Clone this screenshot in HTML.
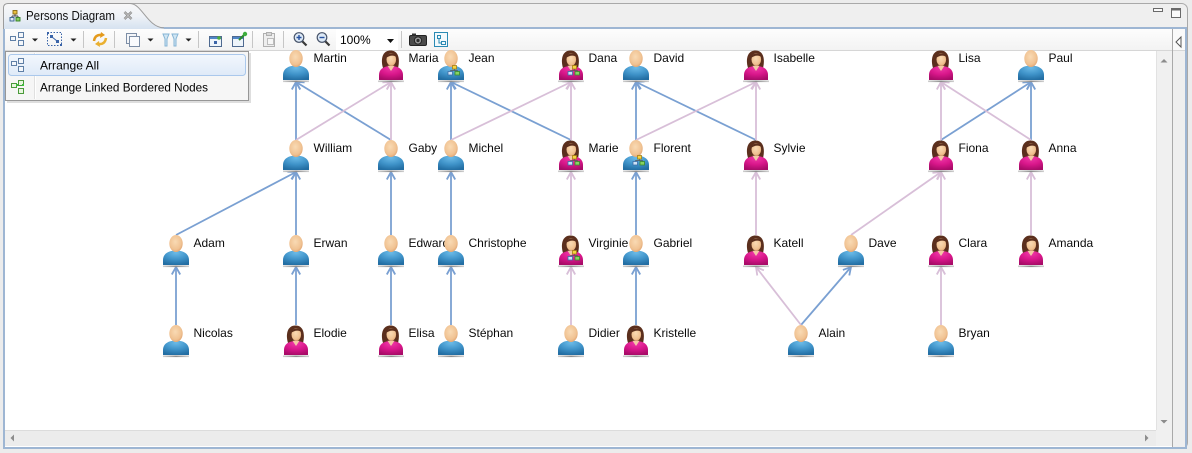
<!DOCTYPE html>
<html><head><meta charset="utf-8"><style>
html,body{margin:0;padding:0;width:1192px;height:453px;overflow:hidden;background:#ececec}
svg{display:block}
text{font-family:"Liberation Sans",sans-serif}
</style></head><body>
<svg width="1192" height="453" viewBox="0 0 1192 453" xmlns="http://www.w3.org/2000/svg">
<defs>
  <linearGradient id="tabg" x1="0" y1="0" x2="0" y2="1">
    <stop offset="0" stop-color="#f8f8f8"/><stop offset="0.5" stop-color="#eef2f7"/><stop offset="1" stop-color="#d6e2f0"/>
  </linearGradient>
  <linearGradient id="tbg" x1="0" y1="0" x2="0" y2="1">
    <stop offset="0" stop-color="#fdfdfd"/><stop offset="1" stop-color="#f3f3f3"/>
  </linearGradient>
  <linearGradient id="hl" x1="0" y1="0" x2="0" y2="1">
    <stop offset="0" stop-color="#f2f7fd"/><stop offset="1" stop-color="#dfeaf8"/>
  </linearGradient>
  <radialGradient id="sk" cx="0.45" cy="0.4" r="0.65">
    <stop offset="0" stop-color="#f9dab4"/><stop offset="0.7" stop-color="#f0c292"/><stop offset="1" stop-color="#dea06c"/>
  </radialGradient>
  <radialGradient id="bl" cx="0.5" cy="0.15" r="0.85">
    <stop offset="0" stop-color="#6cbbe8"/><stop offset="0.55" stop-color="#3f93c9"/><stop offset="1" stop-color="#236ea3"/>
  </radialGradient>
  <radialGradient id="mg" cx="0.5" cy="0.15" r="0.85">
    <stop offset="0" stop-color="#f03aa8"/><stop offset="0.55" stop-color="#d8168a"/><stop offset="1" stop-color="#a80c68"/>
  </radialGradient>
  <linearGradient id="shg" x1="0" y1="0" x2="1" y2="0">
    <stop offset="0" stop-color="#d0d0d0"/><stop offset="0.5" stop-color="#8e8e8e"/><stop offset="1" stop-color="#d0d0d0"/>
  </linearGradient>
  <marker id="ab" markerUnits="userSpaceOnUse" markerWidth="14" markerHeight="14" refX="11" refY="7" orient="auto" overflow="visible">
    <path d="M3.5,2.8 L11,7 L3.5,11.2" fill="none" stroke="#7aa0d2" stroke-width="1.8"/>
  </marker>
  <marker id="ap" markerUnits="userSpaceOnUse" markerWidth="14" markerHeight="14" refX="11" refY="7" orient="auto" overflow="visible">
    <path d="M3.5,2.8 L11,7 L3.5,11.2" fill="none" stroke="#d8bfd8" stroke-width="1.8"/>
  </marker>
  <g id="M">
    <rect x="-13" y="30.5" width="26" height="1.6" fill="url(#shg)"/>
    <path d="M-13,30 L-13,25 C-13,18.5 -7,15.5 0,15.5 C7,15.5 13,18.5 13,25 L13,30 Z" fill="url(#bl)"/>
    <ellipse cx="0" cy="8.5" rx="6.7" ry="8.5" fill="url(#sk)"/>
  </g>
  <g id="F">
    <rect x="-13" y="30.5" width="26" height="1.6" fill="url(#shg)"/>
    <path d="M-8,18 C-10.5,10 -9,0.5 -0.5,0.5 C8,0.5 9,10 7,18 Z" fill="#5b2f1d"/>
    <path d="M-12,30 L-12,25 C-12,19 -7,16 0,16 C7,16 12,19 12,25 L12,30 Z" fill="url(#mg)"/>
    <path d="M-3.5,15.8 L0,21 L3.5,15.8 Z" fill="#f3c9a4"/>
    <ellipse cx="0.3" cy="9.5" rx="4.8" ry="6.3" fill="url(#sk)"/>
    <path d="M-5.8,8.5 C-4.5,2.5 4,1.5 6,7.5 C3,4.8 -1,4.8 -5.8,8.5 Z" fill="#5b2f1d"/>
  </g>
  <g id="ov">
    <path d="M3.5,19 L3.5,20.5 M-0.5,20.5 L6.5,20.5 M-0.5,20.5 L-0.5,21.5 M6.5,20.5 L6.5,21.5" stroke="#555" stroke-width="0.8" fill="none"/>
    <rect x="1.5" y="15.5" width="4" height="3.5" fill="#f6d440" stroke="#a57f12" stroke-width="0.8"/>
    <rect x="-3" y="21.5" width="4.5" height="3.5" fill="#cfe2f6" stroke="#3b6ea8" stroke-width="0.8"/>
    <rect x="4" y="21.5" width="4.5" height="3.5" fill="#86d262" stroke="#3a8a2a" stroke-width="0.8"/>
  </g>
  <clipPath id="edc"><rect x="400" y="230" width="46" height="30"/></clipPath>
</defs>

<!-- outer -->
<rect x="0" y="0" width="1192" height="453" fill="#ececec"/>
<rect x="3.5" y="3.5" width="1184" height="445" rx="6" fill="#efefef" stroke="#a9a9a9"/>
<!-- editor frame -->
<rect x="4" y="28" width="1182" height="420" fill="#ffffff" stroke="#9eb6d3" stroke-width="2"/>
<!-- tab -->
<path d="M3.5,29 L3.5,8 Q3.5,3.5 8,3.5 L130,3.5 C142,3.5 147,27 164,28 L164,29 Z" fill="url(#tabg)"/>
<path d="M3.5,29 L3.5,8 Q3.5,3.5 8,3.5 L130,3.5 C142,3.5 147,27 164,28" fill="none" stroke="#9c9c9c"/>
<!-- tab icon -->
<path d="M15,14 L15,16 M12,16 L18,16 M12,16 L12,17 M18,16 L18,17" stroke="#444" stroke-width="1" fill="none"/>
<rect x="13" y="10.5" width="4" height="3.5" fill="#e8c040" stroke="#8a6a10" stroke-width="0.9"/>
<rect x="10" y="17.5" width="4" height="3.5" fill="#dfe9f6" stroke="#35608f" stroke-width="0.9"/>
<rect x="16" y="17.5" width="4" height="3.5" fill="#88d060" stroke="#2f7a22" stroke-width="0.9"/>
<text x="26" y="20" font-size="12.5" fill="#111" textLength="89" lengthAdjust="spacingAndGlyphs">Persons Diagram</text>
<path d="M124.5,12 L131.5,19 M131.5,12 L124.5,19" stroke="#8a8a8a" stroke-width="2.4"/>
<path d="M124.5,12 L131.5,19 M131.5,12 L124.5,19" stroke="#c8c8c8" stroke-width="0.8"/>
<!-- min/max -->
<rect x="1153.5" y="8.5" width="9" height="3" fill="#fafafa" stroke="#6a6a6a"/>
<rect x="1171.5" y="8.5" width="9" height="9" fill="#fafafa" stroke="#6a6a6a"/>
<rect x="1171.5" y="8.5" width="9" height="2" fill="#6a6a6a"/>

<!-- toolbar -->
<rect x="5" y="29" width="1167" height="21" fill="url(#tbg)"/>
<line x1="5" y1="50.5" x2="1185" y2="50.5" stroke="#d6d6d6"/>
<g stroke="#c6c6c6">
<line x1="83.5" y1="31" x2="83.5" y2="48"/><line x1="114.5" y1="31" x2="114.5" y2="48"/>
<line x1="198.5" y1="31" x2="198.5" y2="48"/><line x1="252.5" y1="31" x2="252.5" y2="48"/>
<line x1="283.5" y1="31" x2="283.5" y2="48"/><line x1="401.5" y1="31" x2="401.5" y2="48"/>
</g>
<g fill="#222">
<path d="M32,38.5 L38,38.5 L35,41.5 Z"/><path d="M70.5,38.5 L76.5,38.5 L73.5,41.5 Z"/>
<path d="M147.5,38.5 L153.5,38.5 L150.5,41.5 Z"/><path d="M185.5,38.5 L191.5,38.5 L188.5,41.5 Z"/>
</g>
<g fill="#f4f7fb" stroke="#5f7fa6">
<rect x="10.5" y="36.5" width="5" height="4"/><rect x="18.5" y="32.5" width="5" height="5"/><rect x="18.5" y="40.5" width="5" height="5"/>
</g>
<rect x="47.5" y="32.5" width="14" height="13" fill="none" stroke="#3a64a8" stroke-dasharray="1.5 1.5"/>
<g fill="#3a64a8"><rect x="50" y="35" width="3" height="3"/><rect x="56" y="40" width="3" height="3"/><rect x="47" y="32" width="2" height="2"/><rect x="60" y="44" width="2" height="2"/></g>
<path d="M52,37 L57,41" stroke="#3a64a8"/>
<path d="M94,41 Q95,34 102,35" fill="none" stroke="#e49a1c" stroke-width="2.5"/>
<path d="M101,32 L105,35 L100,38 Z" fill="#e49a1c"/>
<path d="M106,38 Q105,45 98,44" fill="none" stroke="#eab030" stroke-width="2.5"/>
<path d="M99,41 L95,44 L100,47 Z" fill="#eab030"/>
<rect x="126.5" y="33.5" width="10" height="10" fill="#f4f6f9" stroke="#7d8ea6"/>
<rect x="129.5" y="36.5" width="10" height="10" fill="#fafbfd" stroke="#7d8ea6"/>
<path d="M163,34 L169,34 L167,39 L167,46 L165,46 L165,39 Z M172,34 L178,34 L176,39 L176,46 L174,46 L174,39 Z" fill="#cfe5f3" stroke="#86b4d4"/>
<rect x="209.5" y="36.5" width="12" height="10" fill="#eef4fa" stroke="#4f6a90"/>
<rect x="210" y="37" width="11" height="2" fill="#4f86c8"/>
<rect x="214" y="41" width="3" height="3" fill="#3a64a8"/><circle cx="219" cy="38" r="1.8" fill="#4cae3a"/>
<rect x="232.5" y="36.5" width="11" height="10" fill="#eef4fa" stroke="#4f6a90"/>
<rect x="233" y="37" width="10" height="2" fill="#4f86c8"/>
<path d="M239,40 L246,33" stroke="#2e8a2e" stroke-width="2"/><circle cx="245" cy="34" r="2.2" fill="#3dae3d"/>
<rect x="263.5" y="33.5" width="11" height="13" fill="#eeeeee" stroke="#b0b0b0"/>
<rect x="266.5" y="32.5" width="5" height="3" fill="#d8d8d8" stroke="#b0b0b0"/>
<rect x="267.5" y="38.5" width="6" height="6" fill="#f6f6f6" stroke="#bcbcbc"/>
<line x1="302" y1="41" x2="306.5" y2="45.5" stroke="#3a3a3a" stroke-width="2.2"/>
<circle cx="299" cy="37.5" r="4.8" fill="#dde9f6" stroke="#48546a" stroke-width="1.2"/>
<path d="M296.5,37.5 L301.5,37.5 M299,35 L299,40" stroke="#2852a0" stroke-width="1.4"/>
<line x1="325" y1="41" x2="329.5" y2="45.5" stroke="#3a3a3a" stroke-width="2.2"/>
<circle cx="322" cy="37.5" r="4.8" fill="#dde9f6" stroke="#48546a" stroke-width="1.2"/>
<path d="M319.5,37.5 L324.5,37.5" stroke="#2852a0" stroke-width="1.4"/>
<rect x="336" y="29" width="62" height="21" fill="#ffffff"/>
<text x="340" y="44" font-size="12" fill="#000">100%</text>
<path d="M387,39 L394,39 L390.5,43 Z" fill="#111"/>
<rect x="409.5" y="35.5" width="17" height="10" rx="1.5" fill="#4a4a4a" stroke="#222"/>
<rect x="412" y="33.5" width="4" height="2" fill="#333"/>
<circle cx="418" cy="40.5" r="3.6" fill="#9a9a9a" stroke="#222"/><circle cx="418" cy="40.5" r="1.6" fill="#2b2b2b"/>
<rect x="434.5" y="32.5" width="13" height="14" fill="#f2f9fc" stroke="#2a8ab4"/>
<rect x="437.5" y="35.5" width="3" height="3" fill="none" stroke="#2a8ab4"/>
<rect x="441.5" y="41.5" width="4" height="3" fill="none" stroke="#2a8ab4"/>
<path d="M439,38.5 L439,43 L441.5,43" fill="none" stroke="#2a8ab4"/>

<!-- canvas -->
<rect x="5" y="51" width="1151" height="379" fill="#ffffff"/>
<rect x="1156" y="51" width="16" height="379" fill="#f0f0f0"/>
<line x1="1156.5" y1="51" x2="1156.5" y2="430" stroke="#e2e2e2"/>
<path d="M1160.5,62.5 L1164,59 L1167.5,62.5 Z" fill="#8c8c8c"/>
<path d="M1160.5,420 L1164,423.5 L1167.5,420 Z" fill="#8c8c8c"/>
<rect x="5" y="430" width="1151" height="16" fill="#ececec"/>
<line x1="5" y1="430.5" x2="1156" y2="430.5" stroke="#dcdcdc"/>
<path d="M14,434.5 L10.5,438 L14,441.5 Z" fill="#8c8c8c"/>
<path d="M1145,434.5 L1148.5,438 L1145,441.5 Z" fill="#8c8c8c"/>
<rect x="1156" y="430" width="16" height="16" fill="#f0f0f0"/>
<rect x="1173" y="29" width="12" height="418" fill="#efefef"/>
<rect x="1173" y="29" width="12" height="22" fill="#fafafa"/>
<line x1="1172.5" y1="29" x2="1172.5" y2="447" stroke="#a9a9a9"/>
<line x1="1173" y1="50.5" x2="1185" y2="50.5" stroke="#d6d6d6"/>
<path d="M1181,37 L1176,42 L1181,47 Z" fill="#ffffff" stroke="#555" stroke-width="1"/>

<!-- edges -->
<g stroke-width="1.8" fill="none">
<g stroke="#7aa0d2" marker-end="url(#ab)">
<line x1="296" y1="140" x2="296" y2="82"/>
<line x1="391" y1="140" x2="296" y2="82"/>
<line x1="451" y1="140" x2="451" y2="82"/>
<line x1="571" y1="140" x2="451" y2="82"/>
<line x1="636" y1="140" x2="636" y2="82"/>
<line x1="756" y1="140" x2="636" y2="82"/>
<line x1="941" y1="140" x2="1031" y2="82"/>
<line x1="1031" y1="140" x2="1031" y2="82"/>
<line x1="176" y1="235" x2="296" y2="172"/>
<line x1="296" y1="235" x2="296" y2="172"/>
<line x1="391" y1="235" x2="391" y2="172"/>
<line x1="451" y1="235" x2="451" y2="172"/>
<line x1="636" y1="235" x2="636" y2="172"/>
<line x1="176" y1="325" x2="176" y2="267"/>
<line x1="296" y1="325" x2="296" y2="267"/>
<line x1="391" y1="325" x2="391" y2="267"/>
<line x1="451" y1="325" x2="451" y2="267"/>
<line x1="636" y1="325" x2="636" y2="267"/>
<line x1="801" y1="325" x2="851" y2="267"/>
</g>
<g stroke="#d8bfd8" marker-end="url(#ap)">
<line x1="296" y1="140" x2="391" y2="82"/>
<line x1="391" y1="140" x2="391" y2="82"/>
<line x1="451" y1="140" x2="571" y2="82"/>
<line x1="571" y1="140" x2="571" y2="82"/>
<line x1="636" y1="140" x2="756" y2="82"/>
<line x1="756" y1="140" x2="756" y2="82"/>
<line x1="941" y1="140" x2="941" y2="82"/>
<line x1="1031" y1="140" x2="941" y2="82"/>
<line x1="571" y1="235" x2="571" y2="172"/>
<line x1="756" y1="235" x2="756" y2="172"/>
<line x1="851" y1="235" x2="941" y2="172"/>
<line x1="941" y1="235" x2="941" y2="172"/>
<line x1="1031" y1="235" x2="1031" y2="172"/>
<line x1="571" y1="325" x2="571" y2="267"/>
<line x1="801" y1="325" x2="756" y2="267"/>
<line x1="941" y1="325" x2="941" y2="267"/>
</g>
</g>

<!-- labels -->
<g font-size="12" fill="#0a0a0a">
<text x="313.5" y="62">Martin</text><text x="408.5" y="62">Maria</text><text x="468.5" y="62">Jean</text>
<text x="588.5" y="62">Dana</text><text x="653.5" y="62">David</text><text x="773.5" y="62">Isabelle</text>
<text x="958.5" y="62">Lisa</text><text x="1048.5" y="62">Paul</text>
<text x="313.5" y="152">William</text><text x="408.5" y="152">Gaby</text><text x="468.5" y="152">Michel</text>
<text x="588.5" y="152">Marie</text><text x="653.5" y="152">Florent</text><text x="773.5" y="152">Sylvie</text>
<text x="958.5" y="152">Fiona</text><text x="1048.5" y="152">Anna</text>
<text x="193.5" y="247">Adam</text><text x="313.5" y="247">Erwan</text>
<text x="408.5" y="247" clip-path="url(#edc)">Edward</text>
<text x="468.5" y="247">Christophe</text><text x="588.5" y="247">Virginie</text><text x="653.5" y="247">Gabriel</text>
<text x="773.5" y="247">Katell</text><text x="868.5" y="247">Dave</text><text x="958.5" y="247">Clara</text>
<text x="1048.5" y="247">Amanda</text>
<text x="193.5" y="337">Nicolas</text><text x="313.5" y="337">Elodie</text><text x="408.5" y="337">Elisa</text>
<text x="468.5" y="337">Stéphan</text><text x="588.5" y="337">Didier</text><text x="653.5" y="337">Kristelle</text>
<text x="818.5" y="337">Alain</text><text x="958.5" y="337">Bryan</text>
</g>

<!-- nodes -->
<use href="#M" x="296" y="50"/><use href="#F" x="391" y="50"/><use href="#M" x="451" y="50"/><use href="#ov" x="451" y="50"/>
<use href="#F" x="571" y="50"/><use href="#ov" x="571" y="50"/><use href="#M" x="636" y="50"/><use href="#F" x="756" y="50"/>
<use href="#F" x="941" y="50"/><use href="#M" x="1031" y="50"/>

<use href="#M" x="296" y="140"/><use href="#M" x="391" y="140"/><use href="#M" x="451" y="140"/>
<use href="#F" x="571" y="140"/><use href="#ov" x="571" y="140"/><use href="#M" x="636" y="140"/><use href="#ov" x="636" y="140"/>
<use href="#F" x="756" y="140"/><use href="#F" x="941" y="140"/><use href="#F" x="1031" y="140"/>

<use href="#M" x="176" y="235"/><use href="#M" x="296" y="235"/><use href="#M" x="391" y="235"/><use href="#M" x="451" y="235"/>
<use href="#F" x="571" y="235"/><use href="#ov" x="571" y="235"/><use href="#M" x="636" y="235"/><use href="#F" x="756" y="235"/>
<use href="#M" x="851" y="235"/><use href="#F" x="941" y="235"/><use href="#F" x="1031" y="235"/>

<use href="#M" x="176" y="325"/><use href="#F" x="296" y="325"/><use href="#F" x="391" y="325"/><use href="#M" x="451" y="325"/>
<use href="#M" x="571" y="325"/><use href="#F" x="636" y="325"/><use href="#M" x="801" y="325"/><use href="#M" x="941" y="325"/>

<!-- dropdown menu -->
<rect x="7" y="53" width="244" height="50" fill="#000" opacity="0.13"/>
<rect x="5.5" y="51.5" width="243" height="49" fill="#f6f6f6" stroke="#979797"/>
<line x1="34.5" y1="53" x2="34.5" y2="99" stroke="#e0e0e0"/>
<line x1="35.5" y1="53" x2="35.5" y2="99" stroke="#ffffff"/>
<rect x="8.5" y="54.5" width="237" height="21" rx="3" fill="url(#hl)" stroke="#aac8ec"/>
<g fill="#f4f7fb" stroke="#5f7fa6">
<rect x="11.5" y="61.5" width="5" height="4"/><rect x="18.5" y="58.5" width="5" height="5"/><rect x="18.5" y="66.5" width="5" height="5"/>
</g>
<g fill="#e8f6e0" stroke="#4a9a3a">
<rect x="11.5" y="83.5" width="5" height="4"/><rect x="18.5" y="80.5" width="5" height="5"/><rect x="18.5" y="88.5" width="5" height="5"/>
</g>
<rect x="16" y="84" width="2" height="2" fill="#3cc03c"/><rect x="22" y="84" width="2" height="2" fill="#3cc03c"/>
<text x="40" y="69.5" font-size="12" fill="#000" textLength="59" lengthAdjust="spacingAndGlyphs">Arrange All</text>
<text x="40" y="91.5" font-size="12" fill="#000" textLength="168" lengthAdjust="spacingAndGlyphs">Arrange Linked Bordered Nodes</text>
</svg>
</body></html>
